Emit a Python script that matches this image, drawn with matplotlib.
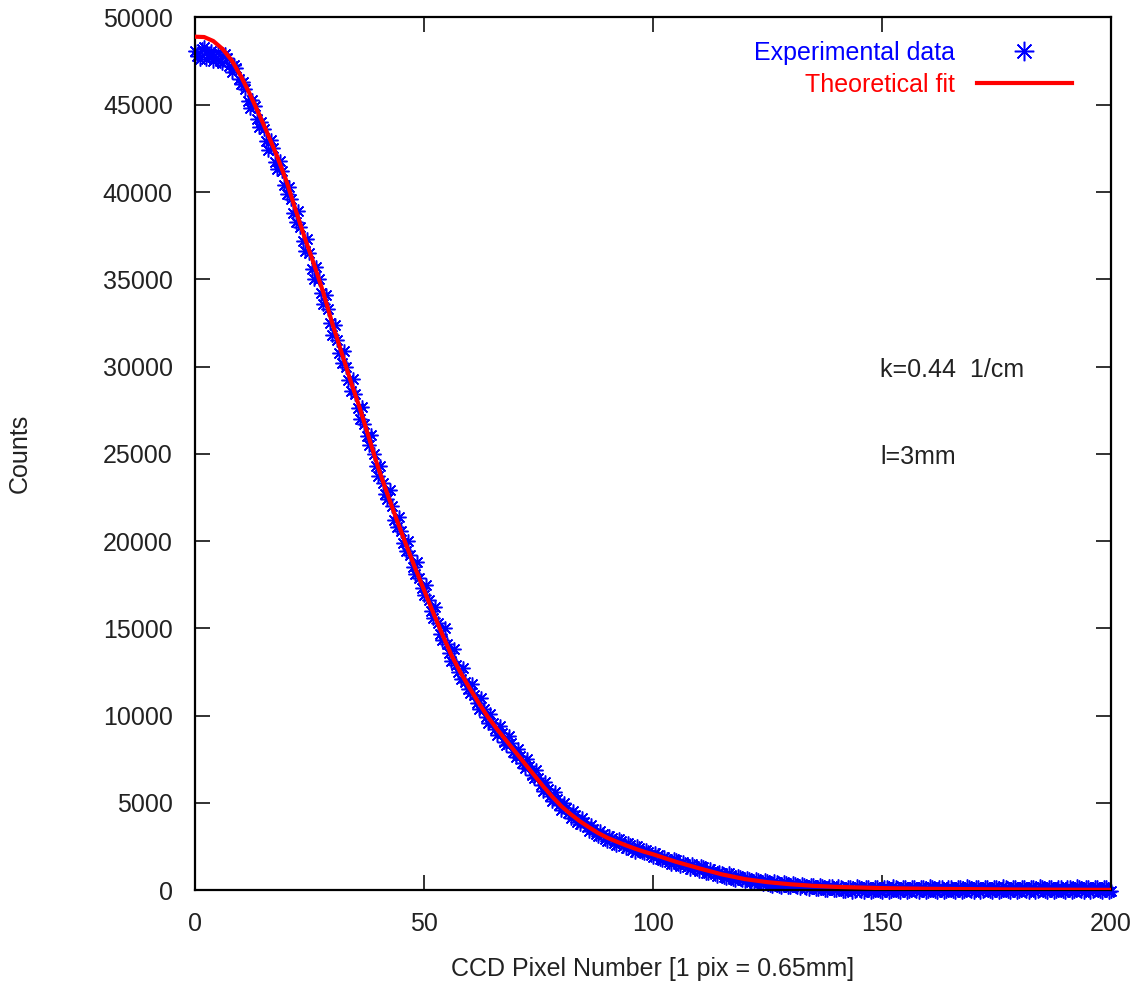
import matplotlib
matplotlib.use("Agg")
import matplotlib.pyplot as plt

exp_x = list(range(0, 201))
exp_y = [48100, 47600, 48300, 47900, 47500, 48000, 47400, 47700, 46900, 47100,
         46200, 45900, 44800, 44900, 43700, 43600, 42400, 42500, 41300, 41200,
         39900, 39600, 38300, 38000, 36600, 36500, 35000, 35000, 33600, 33300,
         31800, 31500, 30200, 30000, 28600, 28400, 27000, 26700, 25500, 25000,
         23700, 23300, 22400, 22000, 20800, 20600, 19400, 19200, 18100, 17900,
         16900, 16600, 15600, 15300, 14300, 14100, 13100, 12900, 12100, 11900,
         11300, 11200, 10400, 10400, 9600, 9600, 8900, 9000, 8300, 8400,
         7600, 7700, 7000, 7100, 6400, 6400, 5700, 5800, 5100, 5200,
         4600, 4700, 4100, 4300, 3800, 3900, 3400, 3500, 3100, 3200,
         2800, 3000, 2600, 2800, 2400, 2600, 2200, 2400, 2100, 2200,
         1900, 2000, 1700, 1800, 1500, 1700, 1400, 1500, 1200, 1400,
         1100, 1300, 950, 1100, 800, 1000, 700, 850, 550, 750,
         500, 650, 400, 600, 350, 500, 250, 450, 200, 400,
         150, 350, 100, 300, 50, 300, 50, 250, 0, 250,
         0, 200, -50, 200, -50, 200, -100, 150, -50, 150,
         -100, 200, -50, 150, -100, 150, -50, 200, -100, 150,
         -50, 150, -100, 200, -50, 150, -100, 150, -50, 200,
         -100, 150, -50, 150, -100, 200, -50, 150, -100, 150,
         -50, 200, -100, 150, -50, 150, -100, 200, -50, 150,
         -100, 150, -50, 200, -100, 150, -50, 150, -100, 200,
         -50]

# ... and on half pixels
exp_x2 = [i + 0.5 for i in range(0, 200)]
exp_y2 = [47800, 48200, 47600, 48100, 47700, 47500, 47900, 47200, 47300, 46500,
          46300, 45200, 45300, 44200, 44000, 42900, 43000, 41700, 41800, 40400,
          40300, 38800, 38900, 37200, 37300, 35600, 35700, 34200, 34100, 32500,
          32400, 30800, 30900, 29200, 29300, 27600, 27700, 26000, 26100, 24300,
          24300, 22700, 22900, 21200, 21400, 19900, 20000, 18500, 18800, 17300,
          17500, 16000, 16200, 14700, 15000, 13600, 13800, 12500, 12700, 11500,
          11800, 10700, 11000, 9900, 10100, 9200, 9400, 8500, 8800, 7900,
          8100, 7300, 7500, 6600, 6900, 6000, 6200, 5400, 5600, 4900,
          5000, 4400, 4500, 3900, 4100, 3600, 3700, 3200, 3400, 2900,
          3100, 2700, 2900, 2500, 2700, 2300, 2500, 2200, 2300, 2000,
          2100, 1800, 1900, 1600, 1800, 1500, 1600, 1300, 1500, 1200,
          1350, 1000, 1200, 900, 1050, 750, 950, 650, 800, 550,
          700, 450, 650, 400, 550, 300, 500, 250, 450, 200,
          400, 150, 350, 100, 300, 50, 300, 0, 250, 0,
          250, -50, 200, -100, 250, -50, 200, -100, 150, -50,
          200, -100, 250, -50, 150, -100, 200, -50, 150, -100,
          250, -50, 200, -100, 150, -50, 200, -100, 250, -50,
          150, -100, 200, -50, 150, -100, 250, -50, 200, -100,
          150, -50, 200, -100, 250, -50, 150, -100, 200, -50,
          150, -100, 250, -50, 200, -100, 150, -50, 200, -100]

# theoretical fit curve
fit_x = [0, 2, 4, 6, 8, 10, 12, 14, 16, 18, 20, 22, 24, 26, 28, 30, 32, 34, 36, 38,
         40, 42, 44, 46, 48, 50, 52, 54, 56, 58, 60, 62, 64, 66, 68, 70, 72, 74, 76, 78,
         80, 82, 84, 86, 88, 90, 92, 94, 96, 98, 100, 105, 110, 115, 120, 125, 130, 135,
         140, 150, 160, 170, 180, 190, 200]
fit_y = [48900, 48880, 48650, 48200, 47550, 46650, 45600, 44450, 43250, 42000,
         40600, 38950, 37350, 35850, 34250, 32450, 30800, 29150, 27600, 25900,
         24200, 22700, 21250, 19850, 18500, 17200, 15900, 14650, 13450, 12450,
         11550, 10700, 9900, 9200, 8550, 7900, 7250, 6600, 5950, 5350,
         4800, 4350, 3950, 3600, 3270, 3000, 2780, 2570, 2380, 2200,
         2050, 1620, 1250, 900, 630, 450, 330, 240,
         180, 110, 70, 50, 30, 20, 10]

x_ticks = [0, 50, 100, 150, 200]
y_ticks = [0, 5000, 10000, 15000, 20000, 25000, 30000, 35000, 40000, 45000, 50000]

plt.rcParams['font.family'] = ['Liberation Sans', 'DejaVu Sans']

fig = plt.figure(figsize=(11.45, 9.94), dpi=100)
ax = fig.add_axes([0.1703, 0.1046, 0.8, 0.8778])

star = dict(linestyle='none', marker=(8, 2, 0), markersize=10,
            markeredgewidth=1.1, color='#0000ff', clip_on=False, zorder=2)
ax.plot(exp_x, exp_y, label='Experimental data', **star)
ax.plot(exp_x2, exp_y2, **star)
ax.plot(fit_x, fit_y, color='#ff0000', linewidth=3, zorder=3,
        label='Theoretical fit')

ax.set_xlim(0, 200)
ax.set_ylim(0, 50000)
ax.set_xticks(x_ticks)
ax.set_yticks(y_ticks)
ax.tick_params(direction='in', length=11, width=1.3, top=True, right=True,
               labelsize=18, pad=16, colors='#222222')
for s in ax.spines.values():
    s.set_linewidth(1.6)

ax.set_xlabel('CCD Pixel Number [1 pix = 0.65mm]', fontsize=18, color='#222222')
ax.set_ylabel('Counts', fontsize=18, color='#222222')
ax.xaxis.set_label_coords(0.5, -0.077)
ax.yaxis.set_label_coords(-0.178, 0.5)

ax.text(149.6, 29800, 'k=0.44  1/cm', fontsize=18, va='center', color='#222222')
ax.text(149.6, 24800, 'l=3mm', fontsize=18, va='center', color='#222222')

leg = ax.legend(loc='upper right', frameon=False, markerfirst=False, fontsize=18,
                handlelength=3.8, handletextpad=0.85, labelspacing=0.31,
                borderaxespad=0.3, bbox_to_anchor=(0.976, 0.993),
                markerscale=1.4, labelcolor=['#0000ff', '#ff0000'])

fig.savefig('out.png', dpi=100)
